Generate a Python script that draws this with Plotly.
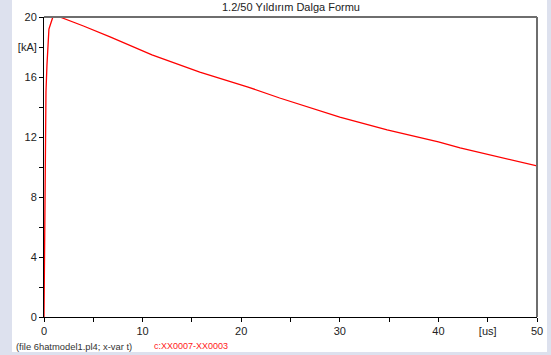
import plotly.graph_objects as go

t_us = [0, 0.05, 0.1, 0.15, 0.2, 0.3, 0.4, 0.5, 0.7, 0.9, 1.6, 4.0, 6.7, 10.95,
        15.8, 20.7, 23.9, 30.0, 34.8, 40.0, 42.2, 50.0]
i_ka = [0, 3.0, 8.0, 12.5, 15.0, 16.8, 18.0, 19.2, 19.6, 20.0, 20.0, 19.4, 18.67, 17.47,
        16.33, 15.33, 14.6, 13.33, 12.47, 11.67, 11.27, 10.07]

y_ticks = [0, 2, 4, 6, 8, 10, 12, 14, 16, 18, 20]
y_text = ["0", "", "4", "", "8", "", "12", "", "16", "[kA]", "20"]
x_ticks = [0, 5, 10, 15, 20, 25, 30, 35, 40, 45, 50]
x_text = ["0", "", "10", "", "20", "", "30", "", "40", "[us]", "50"]

W, H = 551, 355
L, R, T, B = 44, 14, 17, 38
pw, ph = W - L - R, H - T - B

def px(x):
    return (x - L) / pw

def py(y):
    return (H - B - y) / ph

fig = go.Figure()
fig.add_trace(go.Scatter(x=t_us, y=i_ka, mode="lines",
                         line=dict(color="#ff0000", width=1.3), showlegend=False))

font = dict(family="Liberation Sans, Arial, sans-serif", size=11, color="#222222")
fig.update_layout(
    width=W, height=H, autosize=False,
    margin=dict(l=L, r=R, t=T, b=B, pad=0, autoexpand=False),
    paper_bgcolor="#dde1ee", plot_bgcolor="white",
    font=font,
    xaxis=dict(range=[0, 50], tickvals=x_ticks, ticktext=x_text, ticks="outside",
               ticklen=4, tickcolor="black", showline=True, linecolor="black",
               linewidth=1, showgrid=False, zeroline=False, tickfont=font,
               automargin=False),
    yaxis=dict(range=[0, 20], tickvals=y_ticks, ticktext=y_text, ticks="outside",
               ticklen=4, tickcolor="black", showline=True, linecolor="black",
               linewidth=1, showgrid=False, zeroline=False, tickfont=font,
               automargin=False),
    shapes=[
        dict(type="rect", xref="paper", yref="paper", x0=px(12), x1=px(547),
             y0=py(352), y1=py(0), fillcolor="white", line=dict(width=0), layer="below"),
        dict(type="line", xref="paper", yref="paper", x0=0, x1=1, y0=1, y1=1,
             line=dict(color="#6e6e6e", width=2)),
        dict(type="line", xref="paper", yref="paper", x0=1, x1=1, y0=0, y1=1,
             line=dict(color="#6e6e6e", width=2)),
    ],
    annotations=[
        dict(text="1.2/50 Yıldırım Dalga Formu", xref="paper", yref="paper",
             x=0.5, y=py(7), xanchor="center", yanchor="middle", showarrow=False,
             font=dict(family="Liberation Sans, Arial, sans-serif", size=11, color="#222222")),
        dict(text="(file 6hatmodel1.pl4; x-var t)", xref="paper", yref="paper",
             x=px(14), y=py(346), xanchor="left", yanchor="middle", showarrow=False,
             font=dict(family="Liberation Sans, Arial, sans-serif", size=9.4, color="#333333")),
        dict(text="c:XX0007-XX0003", xref="paper", yref="paper",
             x=px(152), y=py(346), xanchor="left", yanchor="middle", showarrow=False,
             font=dict(family="Liberation Sans, Arial, sans-serif", size=9, color="#ff2020")),
    ],
)

fig.write_html("out.html",
               config=dict(displayModeBar=False, responsive=False),
               post_script="document.body.style.margin='0';document.body.style.padding='0';"
                           "document.body.style.overflow='hidden';")
